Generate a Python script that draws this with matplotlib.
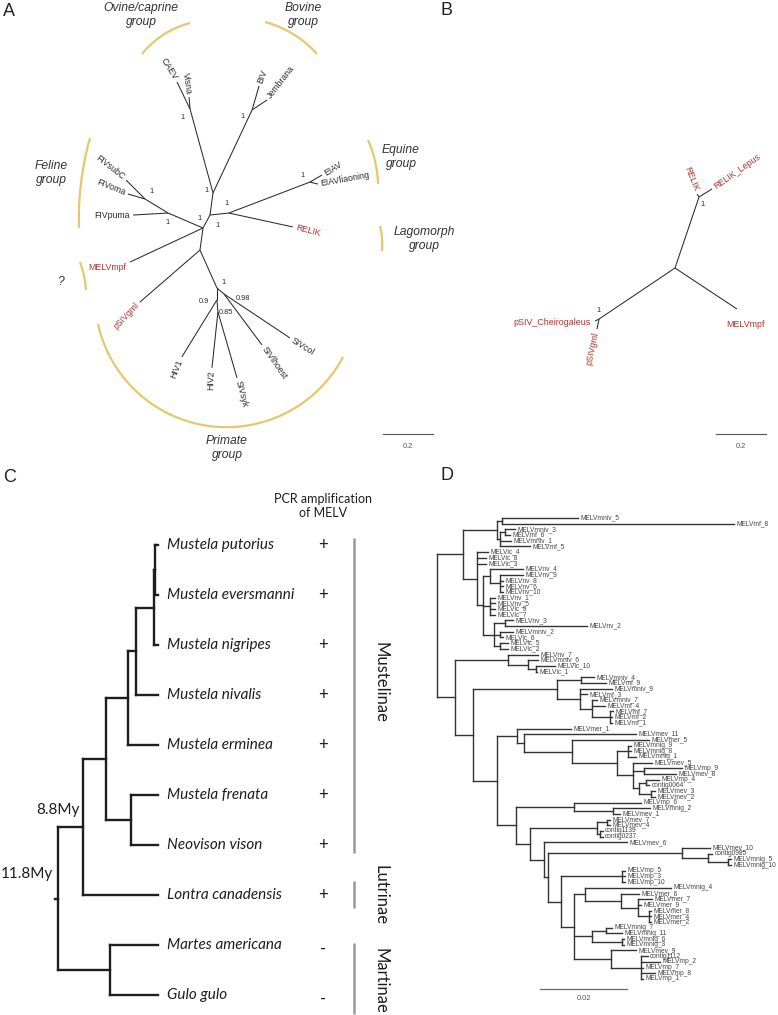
import numpy as np
import matplotlib
matplotlib.use("Agg")
import matplotlib.pyplot as plt
from matplotlib.collections import LineCollection
from matplotlib.transforms import blended_transform_factory

# ======================= DATA =======================
# Panel A - unrooted lentivirus tree: edges (parent, child, branch length, direction in degrees)
A_parent = ["c0", "nU", "nT", "nOv", "nOv", "nT", "nBo", "nBo", "nU", "nE",
            "nEI", "nEI", "nE", "c0", "nF1", "nF1", "nF2", "nF2", "c0", "c0",
            "nR", "nR", "nP1", "nP98", "nP98", "nP1", "nP9", "nP9", "nP85", "nP85"]
A_child = ["nU", "nT", "nOv", "CAEV", "Visna", "nBo", "BIV", "Jembrana", "nE", "nEI",
           "EIAV", "EIAVliaoning", "RELIK", "nF1", "FIVpuma", "nF2", "FIVoma", "FIVsubC", "MELVmpf", "nR",
           "pSIVgml", "nP1", "nP98", "SIVcol", "SIVlhoest", "nP9", "HIV1", "nP85", "HIV2", "SIVsyk"]
A_length = [0.059, 0.089, 0.348, 0.120, 0.048, 0.367, 0.100, 0.072, 0.076, 0.347,
            0.056, 0.033, 0.262, 0.152, 0.140, 0.108, 0.071, 0.107, 0.322, 0.089,
            0.318, 0.166, 0.037, 0.317, 0.254, 0.048, 0.268, 0.048, 0.225, 0.275]
A_angle = [61.7, 82.2, 105.3, 115.7, 94.8, 64.8, 73.7, 33.7, 6.0, 20.9,
           30.3, -14.0, -12.3, 156.8, 183.3, 148.7, 163.6, 135.0, 205.0, 262.2,
           220.9, 294.1, 319.4, 326.3, 306.7, 270.0, 238.4, 274.8, 263.9, 286.1]
A_support_node = ["nOv", "nBo", "nEI", "nE", "nU", "c0", "nT", "nF1", "nF2", "nP1", "nP98", "nP9", "nP85"]
A_support_val = ["1", "1", "1", "1", "1", "1", "1", "1", "1", "1", "0.98", "0.9", "0.85"]
A_red = ["RELIK", "MELVmpf", "pSIVgml"]
A_groups = ["Ovine/caprine\ngroup", "Bovine\ngroup", "Feline\ngroup", "Equine\ngroup",
            "Lagomorph\ngroup", "?", "Primate\ngroup"]

# Panel B - unrooted tree of the endogenous lentiviruses
B_parent = ["cB", "nRel", "nRel", "cB", "cB", "nPS", "nPS"]
B_child = ["nRel", "RELIK", "RELIK_Lepus", "MELVmpf", "nPS", "pSIV_Cheirogaleus", "pSIVgml"]
B_length = [0.300, 0.014, 0.061, 0.297, 0.366, 0.018, 0.041]
B_angle = [71.3, 123.7, 31.6, -33.5, 213.9, 206.6, 258.7]
B_support_node = ["nRel", "nPS"]
B_support_val = ["1", "1"]

SCALE_AB = 0.2

# Panel C - mustelid chronogram (branch lengths in My)
C_tree = ("(((((((Mustela putorius:0.35,Mustela eversmanni:0.35):0.12,Mustela nigripes:0.47):2.13,"
          "Mustela nivalis:2.6):0.9,Mustela erminea:3.5):2.6,(Mustela frenata:3.2,Neovison vison:3.2):2.9):2.7,"
          "Lontra canadensis:8.8):3.0,(Martes americana:5.7,Gulo gulo:5.7):6.1);")
C_pcr = ["+", "+", "+", "+", "+", "+", "+", "+", "-", "-"]
C_sub_names = ["Mustelinae", "Lutrinae", "Martinae"]
C_sub_first = [0, 7, 8]
C_sub_last = [6, 7, 9]
C_age_labels = ["8.8My", "11.8My"]

# Panel D - MELV sequences tree (branch lengths in 0.001 subst/site)
D_A1 = ("((MELVmniv_5:17.5,MELVmf_8:53.4):1.1,((MELVmniv_3:2.3,MELVmf_6:1.1):1.1,"
        "MELVmniv_1:2.5,MELVmf_5:6.9):0.7)")
D_A2 = ("(MELVlc_4:2.5,MELVlc_8:2.1,MELVlc_3:2.1,((MELVnv_4:7.6,(MELVnv_9:5.3,MELVnv_8:0.7,"
        "MELVnv_6:0.7,MELVnv_10:0.7):2.3):1.6,(MELVnv_1:1.1,MELVnv_5:1.1,MELVlc_9:1.1,MELVlc_7:1.1):1.6,"
        "((MELVnv_3:1.8,MELVnv_2:18.9):2.5,(MELVmniv_2:3.0,MELVlc_6:0.7):1.4,"
        "(MELVlc_5:1.8,MELVlc_2:1.8):1.4):2.5):1.4)")
D_C7 = "(MELVnv_7:6.9,(MELVmniv_6:2.3,(MELVlc_10:4.4,MELVlc_1:0.2):1.8):4.6)"
D_MF = ("((MELVmniv_4:3.0,MELVmf_9:5.7):5.5,(MELVmniv_9:7.4,MELVmf_3:1.6,(MELVmniv_7:1.1,"
        "MELVmf_4:3.0,(MELVmf_7:0.7,MELVmf_2:0.5,MELVmf_1:0.5):4.1):2.8):5.1)")
D_U = ("(MELVmer_1:12.6,(MELVmev_11:25.7,(MELVmer_5:17.7,((MELVmnig_9:0.7,MELVmnig_8:0.7,"
       "MELVmnig_1:1.8):2.5,(MELVmev_5:4.4,(MELVmp_9:8.7,MELVmev_8:7.4):2.5,((MELVmp_4:3.0,"
       "contig0064:0.7):1.6,(MELVmev_3:0.7,MELVmev_2:0.7):2.8):1.4):3.7):10.3):11.0):1.8)")
D_L1 = "(MELVmp_6:15.4,(MELVmnig_2:8.5,MELVmev_1:1.6):9.0)"
D_L4 = "((MELVmev_7:0.7,MELVmev_4:0.7):2.3,(contig1139:0.7,contig0237:0.7):0.7)"
D_L9 = "(MELVmev_10:6.4,(contig0985:0.9,(MELVmnig_5:0.7,MELVmnig_10:0.7):4.4):6.0)"
D_L15 = ("(MELVmnig_4:19.8,(MELVmer_6:4.1,(MELVmer_7:3.2,MELVmer_9:0.7,(MELVmer_8:0.5,"
         "MELVmer_4:0.5,MELVmer_2:0.5):2.5):3.9):8.3)")
D_L19 = "((MELVmnig_7:1.4,MELVmnig_11:3.7):3.2,(MELVmnig_6:0.5,MELVmnig_3:0.5):6.9)"
D_L22 = "(MELVmev_9:5.7,(contig1112:1.6,MELVmp_2:4.4,MELVmp_7:0.5,MELVmp_8:3.2,MELVmp_1:0.5):6.7)"
D_SCALE = 20.0   # = 0.02 subst/site
D_SCALE_LABEL = "0.02"

D_L12 = "((MELVmp_5:0.7,MELVmp_3:0.7,MELVmp_10:0.7):14.0,(" + D_L15 + ":2.5," + D_L19 + ":4.1," + D_L22 + ":8.5):3.0)"
D_L3 = "(" + D_L4 + ":15.4,(MELVmev_6:19.1,(" + D_L9 + ":30.8," + D_L12 + ":3.0):1.1):3.2)"
D_L = "(" + D_L1 + ":13.3," + D_L3 + ":3.2)"
D_tree = ("((" + D_A1 + ":7.8," + D_A2 + ":3.2):6.0,(" + D_C7 + ":12.2,(" + D_MF + ":19.5,("
          + D_U + ":4.6," + D_L + ":4.4):5.5):4.1):4.1);")

# ======================= HELPERS =======================
W, H = 778, 1015
RED = "#b3312f"
GOLD = "#e6c76e"
INK = "#2b2b2b"
SANS = ["Liberation Sans", "DejaVu Sans"]
CAL = ["Lato", "DejaVu Sans"]


def parse_newick(s):
    s = s.strip().rstrip(";")
    pos = [0]

    def node():
        n = {"children": [], "name": "", "len": 0.0}
        if s[pos[0]] == "(":
            pos[0] += 1
            while True:
                n["children"].append(node())
                ch = s[pos[0]]
                pos[0] += 1
                if ch == ")":
                    break
        st = pos[0]
        while pos[0] < len(s) and s[pos[0]] not in ",():":
            pos[0] += 1
        n["name"] = s[st:pos[0]]
        if pos[0] < len(s) and s[pos[0]] == ":":
            pos[0] += 1
            st = pos[0]
            while pos[0] < len(s) and s[pos[0]] not in ",()":
                pos[0] += 1
            n["len"] = float(s[st:pos[0]])
        return n
    return node()


def layout_rect(n, x0, counter, tips):
    n["x"] = x0 + n["len"]
    if not n["children"]:
        n["y"] = counter[0]
        counter[0] += 1
        tips.append(n)
    else:
        for c in n["children"]:
            layout_rect(c, n["x"], counter, tips)
        n["y"] = 0.5 * (n["children"][0]["y"] + n["children"][-1]["y"])


def rect_segments(n, segs):
    if n["children"]:
        ys = [c["y"] for c in n["children"]]
        segs.append([(n["x"], min(ys)), (n["x"], max(ys))])
        for c in n["children"]:
            segs.append([(n["x"], c["y"]), (c["x"], c["y"])])
            rect_segments(c, segs)
    return segs


def layout_unrooted(parents, children, lengths, angles):
    pos = {parents[0]: (0.0, 0.0)}
    for p, c, L, a in zip(parents, children, lengths, angles):
        x0, y0 = pos[p]
        r = np.deg2rad(a)
        pos[c] = (x0 + L * np.cos(r), y0 + L * np.sin(r))
    return pos


def arc_points(p1, p2, p3, n=100):
    (x1, y1), (x2, y2), (x3, y3) = p1, p2, p3
    d = 2 * (x1 * (y2 - y3) + x2 * (y3 - y1) + x3 * (y1 - y2))
    ux = ((x1**2 + y1**2) * (y2 - y3) + (x2**2 + y2**2) * (y3 - y1) + (x3**2 + y3**2) * (y1 - y2)) / d
    uy = ((x1**2 + y1**2) * (x3 - x2) + (x2**2 + y2**2) * (x1 - x3) + (x3**2 + y3**2) * (x2 - x1)) / d
    r = np.hypot(x1 - ux, y1 - uy)
    a1 = np.arctan2(y1 - uy, x1 - ux)
    a2 = np.arctan2(y2 - uy, x2 - ux)
    a3 = np.arctan2(y3 - uy, x3 - ux)
    tw = 2 * np.pi
    if (a2 - a1) % tw < (a3 - a1) % tw:
        t = np.linspace(a1, a1 + (a3 - a1) % tw, n)
    else:
        t = np.linspace(a1, a1 - (tw - (a3 - a1) % tw), n)
    return ux + r * np.cos(t), uy + r * np.sin(t)


fig = plt.figure(figsize=(W / 100, H / 100), dpi=100)
fig.patch.set_facecolor("white")


def box_axes(x0, y0, x1, y1):
    ax = fig.add_axes([x0 / W, 1 - y1 / H, (x1 - x0) / W, (y1 - y0) / H])
    ax.set_axis_off()
    ax.patch.set_visible(False)
    return ax


ov = box_axes(0, 0, W, H)
ov.set_xlim(0, W)
ov.set_ylim(H, 0)

# ======================= PANEL A =======================
PX = 250.0
cA = (203, 228)
axA = box_axes(0, 0, 440, 470)
axA.set_xlim(-cA[0] / PX, (440 - cA[0]) / PX)
axA.set_ylim((cA[1] - 470) / PX, cA[1] / PX)
posA = layout_unrooted(A_parent, A_child, A_length, A_angle)
axA.add_collection(LineCollection([[posA[p], posA[c]] for p, c in zip(A_parent, A_child)],
                                  colors=INK, linewidths=0.75))
A_lab_style = {
    "CAEV": (-58, "right", 0, 0), "Visna": (-82, "right", 0, 0), "BIV": (70, "left", 0, 0),
    "Jembrana": (52, "left", 0, 0), "EIAV": (32, "left", 0, 0), "EIAVliaoning": (10, "left", 0, 0),
    "RELIK": (-14, "left", 0, 0), "FIVsubC": (-38, "right", 0, 0), "FIVoma": (-22, "right", 0, 0),
    "FIVpuma": (0, "right", 0, 0), "MELVmpf": (0, "right", -1, 5), "pSIVgml": (47, "right", 0, 0),
    "HIV1": (68, "right", 0, 0), "HIV2": (88, "right", 0, 0), "SIVsyk": (-75, "left", 0, 0),
    "SIVlhoest": (-55, "left", 0, 0), "SIVcol": (-32, "left", 0, 0)}


def tip_labels(ax, pos, styles, red, fs, all_red=False):
    for name, (rot, ha, dxp, dyp) in styles.items():
        x, y = pos[name]
        g = 3.0 / PX
        r = np.deg2rad(rot)
        sgn = 1 if ha == "left" else (-1 if ha == "right" else 0)
        x += sgn * g * np.cos(r) + dxp / PX
        y += sgn * g * np.sin(r) - dyp / PX
        col = RED if (all_red or name in red) else INK
        ax.text(x, y, name, rotation=rot, rotation_mode="anchor", ha=ha, va="center",
                fontsize=fs, color=col, family=SANS)


tip_labels(axA, posA, A_lab_style, A_red, 6.3)
A_sup_off = {"nOv": (-8, 8), "nBo": (-10, 7), "nEI": (-7, -7), "nE": (-2, -10), "nU": (7, 10),
             "c0": (-4, -9), "nT": (-7, -2), "nF1": (-1, 9), "nF2": (6, -8), "nP1": (7, -5),
             "nP98": (19, 5), "nP9": (-13, 2), "nP85": (8, 1)}
for nd, v in zip(A_support_node, A_support_val):
    x, y = posA[nd]
    dx, dy = A_sup_off[nd]
    axA.text(x + dx / PX, y - dy / PX, v, ha="center", va="center", fontsize=5.3, color=INK, family=SANS)

# scale bar A
sbx, sby = (383 - cA[0]) / PX, (cA[1] - 434) / PX
axA.plot([sbx, sbx + SCALE_AB], [sby, sby], color="#555555", lw=0.8)
axA.text(sbx + SCALE_AB / 2, sby - 12 / PX, "0.2", ha="center", va="center", fontsize=5.3,
         color="#555555", family=SANS)

# group arcs (decorations, pixel space)
arcs = [((142, 54), (163, 35), (190, 23)),
        ((265, 22), (293, 34), (317, 54)),
        ((90, 138), (81, 183), (79, 228)),
        ((368, 140), (375, 161), (378, 184)),
        ((380, 226), (382, 238), (382, 251)),
        ((80, 262), (84, 276), (86, 290)),
        ((98, 324), (233, 427), (343, 357))]
for p1, p2, p3 in arcs:
    xs, ys = arc_points(p1, p2, p3)
    ov.plot(xs, ys, color=GOLD, lw=1.6, solid_capstyle="butt")
grp_pos = [(141, 15), (303, 15), (51, 173), (401, 157), (424, 239), (60, 282), (227, 448)]
for txt, (gx, gy) in zip(A_groups, grp_pos):
    ov.text(gx, gy, txt, ha="center", va="center", fontsize=8.7, style="italic", color="#333333",
            family=SANS, linespacing=1.15)

# ======================= PANEL B =======================
cB = (675, 268)
axB = box_axes(440, 0, 778, 470)
axB.set_xlim((440 - cB[0]) / PX, (778 - cB[0]) / PX)
axB.set_ylim((cB[1] - 470) / PX, cB[1] / PX)
posB = layout_unrooted(B_parent, B_child, B_length, B_angle)
axB.add_collection(LineCollection([[posB[p], posB[c]] for p, c in zip(B_parent, B_child)],
                                  colors=INK, linewidths=0.75))
B_lab_style = {"RELIK": (-68, "right", 0, 0), "RELIK_Lepus": (35, "left", 0, 0),
               "MELVmpf": (0, "center", 9, 16), "pSIV_Cheirogaleus": (0, "right", -1, 1),
               "pSIVgml": (78, "right", 0, 0)}
tip_labels(axB, posB, B_lab_style, [], 6.4, all_red=True)
B_sup_off = {"nRel": (4, 8), "nPS": (0, -9)}
for nd, v in zip(B_support_node, B_support_val):
    x, y = posB[nd]
    dx, dy = B_sup_off[nd]
    axB.text(x + dx / PX, y - dy / PX, v, ha="center", va="center", fontsize=5.5, color=INK, family=SANS)
sbx, sby = (716 - cB[0]) / PX, (cB[1] - 434) / PX
axB.plot([sbx, sbx + SCALE_AB], [sby, sby], color="#555555", lw=0.8)
axB.text(sbx + SCALE_AB / 2, sby - 12 / PX, "0.2", ha="center", va="center", fontsize=5.3,
         color="#555555", family=SANS)

# ======================= PANEL C =======================
CPX = 8.47          # px per My
CROW = 50.0         # px per row
axC = box_axes(0, 470, 440, 1015)
axC.set_xlim(-58 / CPX, (440 - 58) / CPX)
axC.set_ylim((1015 - 545) / CROW, (470 - 545) / CROW)
rootC = parse_newick(C_tree)
tipsC = []
layout_rect(rootC, 0.0, [0], tipsC)
segC = rect_segments(rootC, [])
segC.append([(rootC["x"] - 0.35, rootC["y"]), (rootC["x"], rootC["y"])])
axC.add_collection(LineCollection(segC, colors="#1e1e1e", linewidths=1.7, capstyle="projecting"))
for t in tipsC:
    axC.text(t["x"] + 9 / CPX, t["y"], t["name"], ha="left", va="center", fontsize=11,
             style="italic", color="#1e1e1e", family=CAL)
trC = blended_transform_factory(ov.transData, axC.transData)
for t, s in zip(tipsC, C_pcr):
    axC.text(323, t["y"] + (0.08 if s == "-" else 0.0), s, transform=trC, ha="center", va="center",
             fontsize=12, color="#1e1e1e", family=CAL)
bar_ext = [(-0.15, 0.16), (-0.28, 0.26), (-0.05, 0.38)]
txt_y = [2.75, 7.0, 8.72]
for nm, f, l, (e0, e1), ty in zip(C_sub_names, C_sub_first, C_sub_last, bar_ext, txt_y):
    axC.plot([354, 354], [f + e0, l + e1], transform=trC, color="#9a9a9a", lw=1.8,
             solid_capstyle="butt", clip_on=False)
    axC.text(381, ty, nm, transform=trC, rotation=-90, ha="center", va="center", fontsize=12,
             color="#1e1e1e", family=CAL)
n88 = rootC["children"][0]
axC.text(n88["x"] - 4 / CPX, n88["y"] - 17 / CROW, C_age_labels[0], ha="right", va="center",
         fontsize=11, color="#1e1e1e", family=CAL)
axC.text(rootC["x"] - 5 / CPX, rootC["y"] - 25 / CROW, C_age_labels[1], ha="right", va="center",
         fontsize=11, color="#1e1e1e", family=CAL)
ov.text(323, 506, "PCR amplification\nof MELV", ha="center", va="center", fontsize=9.0,
        color="#1e1e1e", family=CAL, linespacing=1.25)

# ======================= PANEL D =======================
DPX = 4.35          # px per 0.001 subst/site
DROW = 5.69         # px per tip
axD = box_axes(430, 470, 778, 1015)
axD.set_xlim(-7 / DPX, (778 - 437) / DPX)
axD.set_ylim((1015 - 518) / DROW, (470 - 518) / DROW)
rootD = parse_newick(D_tree)
tipsD = []
layout_rect(rootD, 0.0, [0], tipsD)
axD.add_collection(LineCollection(rect_segments(rootD, []), colors="#333333", linewidths=1.0,
                                  capstyle="projecting"))
for t in tipsD:
    axD.text(t["x"] + 2.5 / DPX, t["y"], t["name"], ha="left", va="center", fontsize=4.8,
             color="#444444", family=SANS)
sx0 = (540 - 437) / DPX
sy = (989 - 518) / DROW
axD.plot([sx0, sx0 + D_SCALE], [sy, sy], color="#666666", lw=0.9)
axD.text(sx0 + D_SCALE / 2, sy + 10 / DROW, D_SCALE_LABEL, ha="center", va="center", fontsize=5.3,
         color="#555555", family=SANS)

# ======================= PANEL LETTERS =======================
for L, (lx, ly) in zip("ABCD", [(3, 11), (441, 10), (3, 477), (441, 476)]):
    ov.text(lx, ly, L, ha="left", va="center", fontsize=13, color="#222222", family=SANS)

fig.savefig("out.png", dpi=100)
